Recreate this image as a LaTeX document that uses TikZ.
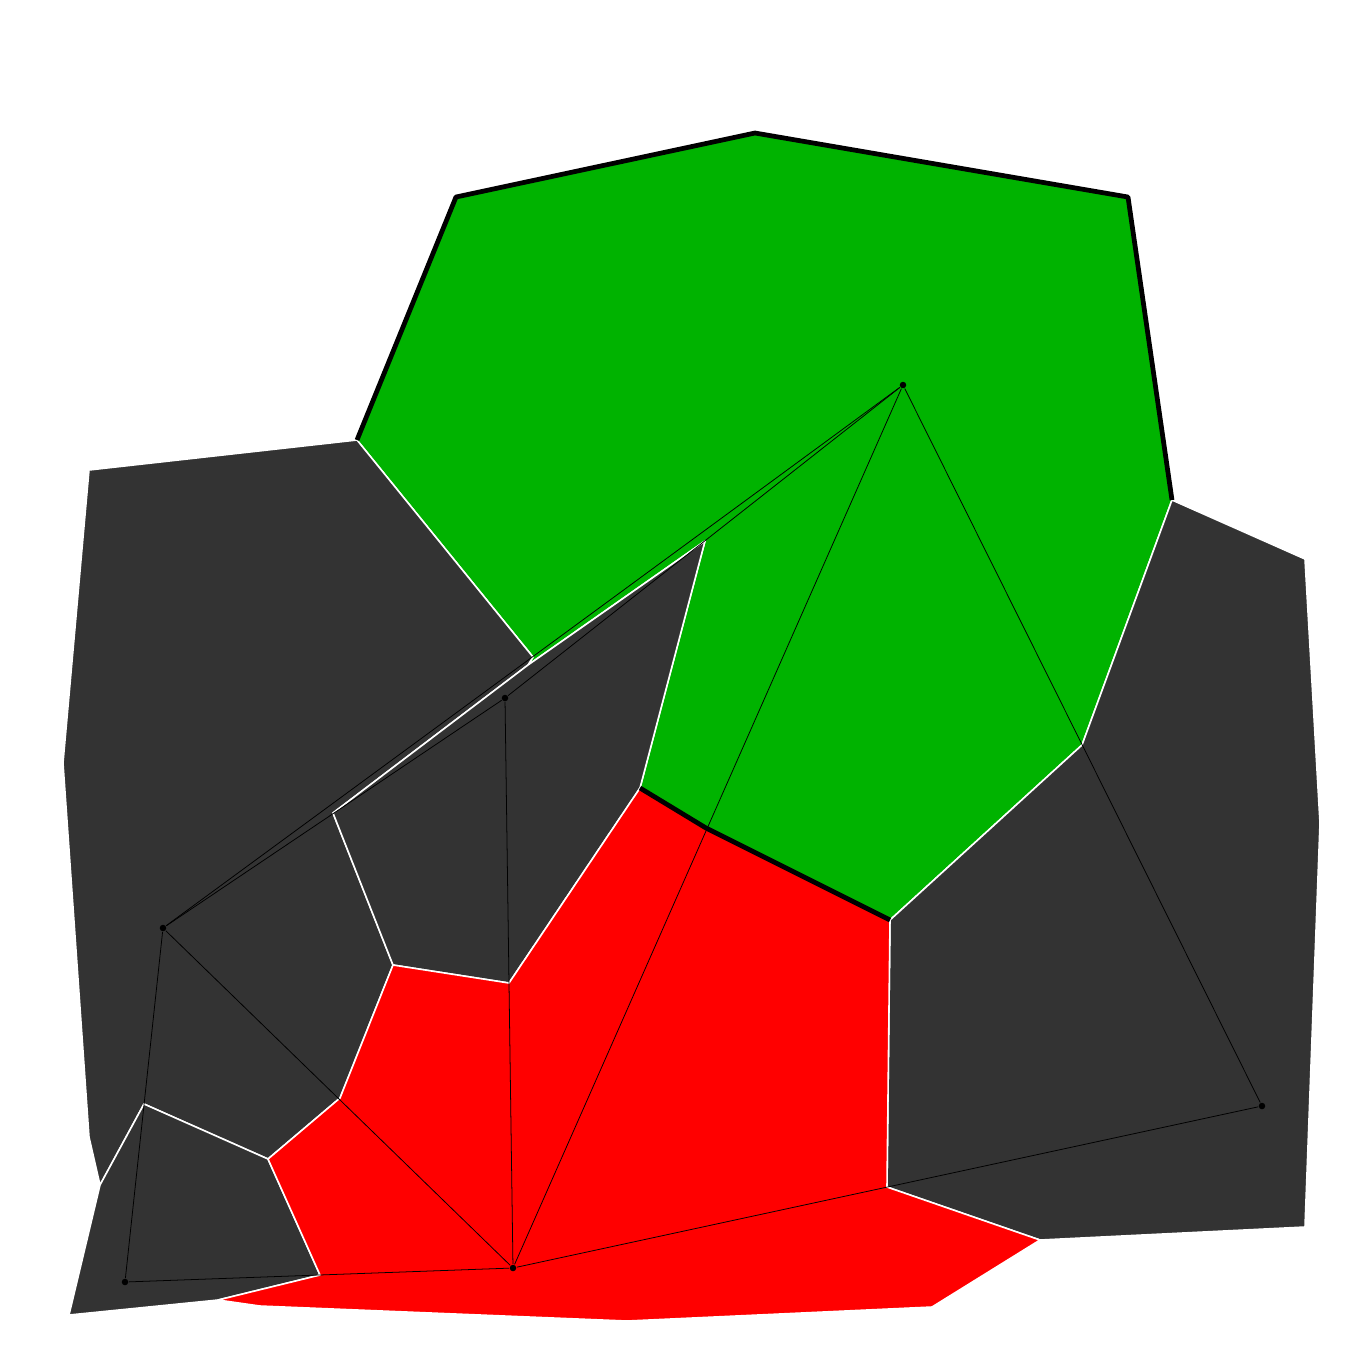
\documentclass[tikz,border=0pt]{standalone}
\usepackage{tikz}
\usetikzlibrary{calc}
\definecolor{cellgreen}{RGB}{0,179,0}
\definecolor{celldark}{RGB}{51,51,51}
\definecolor{cellred}{RGB}{255,0,0}

\begin{document}
\begin{tikzpicture}[x=0.01cm, y=-0.01cm,
    cell/.style={draw=white, line width=0.45pt, line join=round},
    link/.style={draw=black, line width=0.22pt},
    rim/.style={draw=black, line width=1.35pt, line join=round},
    site/.style={circle, fill=black, inner sep=0pt, minimum size=0.065cm}]
        \useasboundingbox (0,0) rectangle (1362,1362);

        % Cell corners
        \coordinate (v1) at (89,470);   \coordinate (v2) at (357,440);
        \coordinate (v3) at (456,197);  \coordinate (v4) at (755,133);
        \coordinate (v5) at (1128,197); \coordinate (v6) at (1172,500);
        \coordinate (v7) at (1305,559); \coordinate (v8) at (1320,823);
        \coordinate (v9) at (1305,1227); \coordinate (v10) at (1040,1240);
        \coordinate (v11) at (932,1307); \coordinate (v12) at (627,1321);
        \coordinate (v13) at (260,1306); \coordinate (v14) at (218,1300);
        \coordinate (v15) at (69,1315);  \coordinate (v16) at (100,1185);
        \coordinate (v17) at (89,1137);  \coordinate (v18) at (63,763);
        \coordinate (v19) at (533,657);  \coordinate (v20) at (528,665);
        \coordinate (v21) at (705,541);  \coordinate (v22) at (640,788);
        \coordinate (v23) at (706,828);  \coordinate (v24) at (890,920);
        \coordinate (v25) at (1082,745); \coordinate (v26) at (887,1187);
        \coordinate (v27) at (509,983);  \coordinate (v28) at (393,965);
        \coordinate (v29) at (333,813);  \coordinate (v30) at (340,1098);
        \coordinate (v31) at (268,1159); \coordinate (v32) at (144,1104);
        \coordinate (v33) at (320,1275);

        % Cells
        \filldraw[cell, fill=cellgreen] (v2) -- (v3) -- (v4) -- (v5) -- (v6) -- (v25) -- (v24) -- (v23) -- (v22) -- (v21) -- (v20) -- (v19) -- cycle;
        \filldraw[cell, fill=celldark] (v1) -- (v2) -- (v19) -- (v20) -- (v29) -- (v28) -- (v30) -- (v31) -- (v32) -- (v16) -- (v17) -- (v18) -- cycle;
        \filldraw[cell, fill=celldark] (v20) -- (v21) -- (v22) -- (v27) -- (v28) -- (v29) -- cycle;
        \filldraw[cell, fill=celldark] (v32) -- (v31) -- (v33) -- (v14) -- (v15) -- (v16) -- cycle;
        \filldraw[cell, fill=celldark] (v6) -- (v7) -- (v8) -- (v9) -- (v10) -- (v26) -- (v24) -- (v25) -- cycle;
        \filldraw[cell, fill=cellred] (v22) -- (v23) -- (v24) -- (v26) -- (v10) -- (v11) -- (v12) -- (v13) -- (v14) -- (v33) -- (v31) -- (v30) -- (v28) -- (v27) -- cycle;

        % Sites
        \node[site] (sa) at (903,385) {};
        \node[site] (sb) at (505,698) {};
        \node[site] (sc) at (163,928) {};
        \node[site] (sd) at (125,1282) {};
        \node[site] (se) at (513,1268) {};
        \node[site] (sf) at (1262,1106) {};

        \draw[link] (sa) -- (sb);
        \draw[link] (sa) -- (sc);
        \draw[link] (sa) -- (se);
        \draw[link] (sa) -- (sf);
        \draw[link] (sb) -- (sc);
        \draw[link] (sb) -- (se);
        \draw[link] (sc) -- (se);
        \draw[link] (sc) -- (sd);
        \draw[link] (sd) -- (se);
        \draw[link] (se) -- (sf);

        % Outline
        \draw[rim] (v2) -- (v3) -- (v4) -- (v5) -- (v6);
        \draw[rim] (v22) -- (v23) -- (v24);
\end{tikzpicture}
\end{document}
